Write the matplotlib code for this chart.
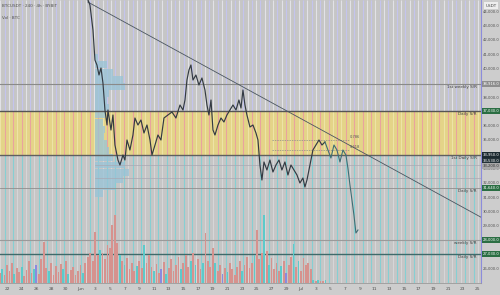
import numpy as np
import matplotlib
matplotlib.use("Agg")
import matplotlib.pyplot as plt

# ---------------- data ----------------
# time in days since May 22 (4h-style chart, ticks every 2 days)
price_days = [11.02, 11.29, 11.70, 11.97, 12.24, 12.52, 12.79, 13.06, 13.33, 13.61, 13.74, 14.15,
              14.42, 14.69, 15.10, 15.37, 15.78, 16.05, 16.33, 16.73, 17.14, 17.41, 17.82, 18.23,
              18.64, 19.05, 19.46, 19.73, 20.14, 20.54, 20.95, 21.36, 21.90, 22.45, 22.99, 23.54,
              23.95, 24.22, 24.49, 24.76, 25.03, 25.31, 25.71, 26.12, 26.53, 26.94, 27.21, 27.48,
              27.76, 28.03, 28.30, 28.71, 29.12, 29.52, 29.93, 30.34, 30.75, 31.16, 31.56, 31.84,
              32.11, 32.38, 32.65, 33.06, 33.47, 33.88, 34.15, 34.42, 34.69, 34.97, 35.37, 35.78,
              36.19, 36.60, 37.01, 37.41, 37.82, 38.23, 38.64, 39.05, 39.46, 39.86, 40.27, 40.54,
              40.82, 41.09, 41.36, 41.63, 42.04, 42.45, 42.86, 43.27]
price_vals = [44790, 44440, 42690, 40590, 40245, 39545, 40035, 38986, 37098, 36049, 37098, 35699,
              36748, 34650, 33601, 33252, 33951, 33601, 35000, 34301, 35350, 36538, 36049, 36399,
              35490, 36049, 35000, 33951, 34650, 35350, 35000, 36538, 36748, 36958, 36538, 37448,
              37098, 37797, 39196, 39895, 40245, 39196, 39545, 38846, 39336, 38496, 37448, 36748,
              37797, 35699, 35350, 36049, 36538, 36259, 36748, 37098, 37448, 37098, 37797, 37238,
              38496, 37448, 36748, 35909, 36049, 35490, 35000, 33252, 32203, 33462, 32902, 33601,
              32762, 33252, 33601, 32902, 33462, 32552, 33252, 32902, 32552, 31993, 32343, 31713,
              32203, 32902, 33601, 34301, 34650, 35000, 34650, 34860]

# hand-drawn projection path
proj_days = [43.27, 43.67, 44.08, 44.49, 44.90, 45.31, 45.71, 46.12, 46.39, 46.67, 46.94, 47.21, 47.48, 47.76]
proj_vals = [34860, 34301, 33741, 34650, 34301, 33462, 34301, 33951, 33042, 31853, 30804, 29755, 28497, 28706]

# descending trendline (two anchor points)
trend_days = [11.0, 64.5]
trend_vals = [44650, 29600]

# support / resistance levels
level_names = ["1st weekly S/R", "Daily S/R", "1st Daily S/R", "Daily S/R", "weekly S/R", "Daily S/R"]
level_vals = [38916, 37030, 33950, 31640, 28000, 27030]
zone_low, zone_high = 33950, 37030

# short fib-style dashed levels near the last candles
fib_vals = [35000, 34300]
fib_days = [36.0, 46.5]
fib_names = ["0.786", "0.618"]

# faint volume-profile reference lines
vp_lines = [33250, 32340]

# volume profile (price bin centres, length in days)
vp_prices = [40750, 40250, 39750, 39250, 38750, 38250, 37750, 37250, 36750, 36250,
             35750, 35250, 34750, 34250, 33750, 33250, 32750, 32250, 31750, 31250]
vp_len = [0.4, 1.6, 2.4, 3.8, 4.1, 1.9, 1.6, 1.9, 1.4, 1.1,
          1.4, 1.2, 1.6, 1.9, 2.4, 4.1, 4.6, 3.8, 2.7, 1.1]

# volume bars (3 per day starting at day -1), in thousands
vol_k = [10, 14, 8, 18, 12, 20, 9, 15, 11, 16, 7, 13, 22, 10, 14, 18, 9, 24, 41, 15,
         12, 20, 8, 17, 11, 19, 14, 22, 9, 13, 16, 8, 12, 18, 10, 20, 26, 30, 22, 51,
         28, 33, 30, 24, 38, 35, 58, 68, 40, 28, 22, 18, 25, 14, 20, 12, 17, 22, 15, 38,
         20, 28, 16, 12, 19, 10, 14, 21, 9, 15, 24, 12, 18, 26, 14, 20, 28, 16, 22, 30,
         18, 24, 14, 20, 50, 22, 16, 35, 20, 12, 18, 9, 15, 11, 20, 14, 8, 16, 22, 12,
         18, 26, 15, 20, 28, 53, 24, 30, 68, 32, 18, 25, 14, 20, 12, 17, 22, 10, 18, 26,
         39, 16, 22, 12, 25, 18, 20, 14, 3, 2, 3, 2, 2, 3]
vol_dir = ("rgrrrrgrrgrrrrgbrrrr" "grrrrrgrgrrrrrgrrrrr"
           "rgrrrrrrrgrgrrrrgrrg" "rrrgrrbrgrrrrrgrrrgr"
           "grrgrrrrgrrbrgrrrrrg" "rrrrgrrrgrgrrrrgrbrr"
           "grgrrrrrgrgrrg")
vol_start_day = -1.0

tick_days = list(range(0, 65, 2))
tick_labels = ["22", "24", "26", "28", "30", "Jun", "3", "5", "7", "9", "11", "13", "15", "17",
               "19", "21", "23", "25", "27", "29", "Jul", "3", "5", "7", "9", "11", "13", "15",
               "17", "19", "21", "23", "25"]
price_ticks = list(range(26000, 44001, 1000))

# ---------------- figure ----------------
XMIN, XMAX = -0.95, 64.5
YMIN, YMAX = 25000, 44790

fig = plt.figure(figsize=(5, 2.95), dpi=100)
fig.patch.set_facecolor("#cdcdcd")
ax = fig.add_axes([0, 12 / 295, 481 / 500, 283 / 295])
ax.set_facecolor("#c6c6c6")
ax.set_xlim(XMIN, XMAX)
ax.set_ylim(YMIN, YMAX)

# volume bars on a twin axis (created first, then restyle main axis)
vax = ax.twinx()

# striped background
xs = np.arange(XMIN + 0.05, XMAX, 0.58)
ax.vlines(xs[::2], zone_high, YMAX, colors="#e2e2e8", lw=0.8, zorder=0.5)
ax.vlines(xs[1::2], zone_high, YMAX, colors="#c4c4ee", lw=0.8, zorder=0.5)
ax.axhspan(zone_low, zone_high, color="#e4d488", zorder=0.4, lw=0)
ax.vlines(xs[::2], zone_low, zone_high, colors="#eee3a6", lw=0.8, zorder=0.5)
ax.vlines(xs[1::2], zone_low, zone_high, colors="#e9a39e", lw=0.8, zorder=0.5)
ax.vlines(xs[::2], YMIN, zone_low, colors="#d6d6d8", lw=0.8, zorder=0.5)
ax.vlines(xs[1::2], YMIN, zone_low, colors="#86cfd3", lw=0.8, zorder=0.5)

# volume profile
ax.barh(vp_prices, vp_len, height=480, left=11.97, color="#98c4d8", alpha=0.75, zorder=1, lw=0)

# levels
lvl_style = [("#8a8a8a", 0.8), ("#555555", 1.0), ("#606060", 1.0),
             ("#8f8f8f", 0.6), ("#9a9a9a", 0.8), ("#3f6b6b", 1.0)]
for (name, v), (c, lw) in zip(zip(level_names, level_vals), lvl_style):
    ax.axhline(v, color=c, lw=lw, zorder=2)
    ax.text(63.9, v - 90, name, ha="right", va="top", fontsize=3, color="#404040", zorder=5)

for v in vp_lines:
    ax.plot([11.97, XMAX], [v, v], color="#a9a9b4", lw=0.5, zorder=2)

for v, n in zip(fib_vals, fib_names):
    ax.plot(fib_days, [v, v], color="#8a8a8a", lw=0.5, ls=(0, (2, 1.5)), zorder=2)
    ax.text(fib_days[1] + 0.1, v + 60, n, fontsize=2.6, color="#555555", va="bottom", zorder=5)

# trendline, price, projection
ax.plot(trend_days, trend_vals, color="#4a5560", lw=0.6, zorder=3)
ax.plot(price_days, price_vals, color="#333a42", lw=0.85, zorder=4)
ax.plot(proj_days, proj_vals, color="#3e6e74", lw=0.8, zorder=4)

# axes styling
for s in ["top", "left"]:
    ax.spines[s].set_visible(False)
ax.spines["right"].set_color("#8c8cdc")
ax.spines["right"].set_linewidth(0.8)
ax.spines["bottom"].set_color("#9a9a9a")
ax.spines["bottom"].set_linewidth(0.6)
ax.yaxis.tick_right()
ax.yaxis.set_label_position("right")
ax.set_yticks(price_ticks)
ax.set_yticklabels([f"{v:,.1f}" for v in price_ticks])
ax.set_xticks(tick_days)
ax.set_xticklabels(tick_labels)
ax.tick_params(axis="x", length=0, labelsize=3.2, colors="#505050", pad=3)
ax.tick_params(axis="y", length=0, labelsize=2.7, colors="#505050", pad=1.2,
               left=False, labelleft=False, right=False, labelright=True)

# price boxes on the right axis
box_style = {38916: "#8e8e8e", 37030: "#2b6e43", 33950: "#1c2a30",
             31640: "#2b6e43", 28000: "#2b6e43", 27030: "#2b6e43"}
for v, c in box_style.items():
    ax.annotate(f"{v:,.1f}", xy=(1, v), xycoords=("axes fraction", "data"),
                xytext=(1.2, 0), textcoords="offset points", fontsize=2.7, color="white",
                va="center", ha="left", annotation_clip=False, zorder=6,
                bbox=dict(boxstyle="square,pad=0.25", fc=c, ec="none"))
ax.annotate(f"{33530:,.1f}", xy=(1, 33530), xycoords=("axes fraction", "data"),
            xytext=(1.2, 0), textcoords="offset points", fontsize=2.7, color="white",
            va="center", ha="left", annotation_clip=False, zorder=6,
            bbox=dict(boxstyle="square,pad=0.25", fc="#243238", ec="none"))
ax.annotate(f"{33200:,.1f}", xy=(1, 33200), xycoords=("axes fraction", "data"),
            xytext=(1.2, 0), textcoords="offset points", fontsize=2.7, color="#303030",
            va="center", ha="left", annotation_clip=False, zorder=6,
            bbox=dict(boxstyle="square,pad=0.25", fc="#a8a8a8", ec="none"))
ax.annotate("USDT", xy=(1, 1), xycoords="axes fraction", xytext=(3, -4),
            textcoords="offset points", fontsize=3, color="#404040", va="center", ha="left",
            annotation_clip=False, bbox=dict(boxstyle="square,pad=0.4", fc="#eeeeee", ec="none"))

ax.text(0.004, 0.985, "BTCUSDT · 240 · 4h · BYBIT", transform=ax.transAxes, fontsize=3,
        color="#505050", va="top", ha="left")
ax.text(0.004, 0.945, "Vol · BTC", transform=ax.transAxes, fontsize=3,
        color="#505050", va="top", ha="left")

# volume bars
vax.set_ylim(0, max(vol_k) / 0.24)
vax.patch.set_visible(False)
for s in vax.spines.values():
    s.set_visible(False)
vax.set_yticks([])
vax.tick_params(axis="both", length=0, labelright=False, labelleft=False)
vol_days = vol_start_day + np.arange(len(vol_k)) / 3.0
cmap = {"r": "#d6928e", "g": "#5ccaca", "b": "#8a8ae0"}
vcols = [cmap[c] for c in vol_dir[:len(vol_k)]]
vax.bar(vol_days, vol_k, width=0.24, color=vcols, lw=0, zorder=1)
vax.set_xlim(XMIN, XMAX)

fig.savefig("out.png", dpi=100, facecolor=fig.get_facecolor())
